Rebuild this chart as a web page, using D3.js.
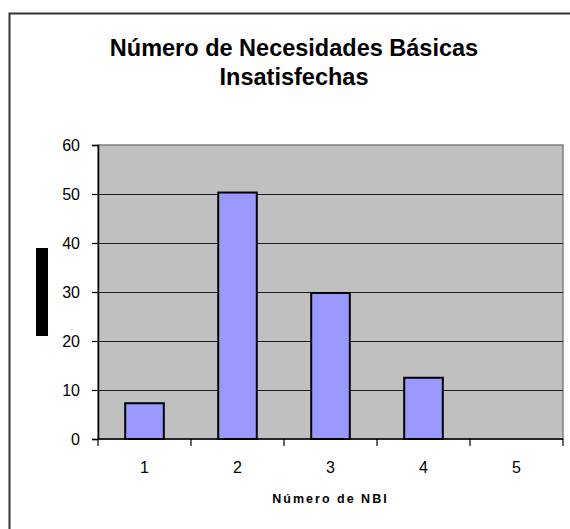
<!DOCTYPE html>
<html>
<head>
<meta charset="utf-8">
<script src="https://cdn.jsdelivr.net/npm/d3@7"></script>
<style>
  html, body { margin: 0; padding: 0; background: #fff; }
  svg { display: block; }
  text { font-family: "Liberation Sans", Arial, sans-serif; }
</style>
</head>
<body>
<svg id="chart" width="570" height="529"></svg>
<script>
const categories = ["1", "2", "3", "4", "5"];
const values = [7.3, 50.3, 29.8, 12.5, 0];
const yTicks = [0, 10, 20, 30, 40, 50, 60];
const titleLines = ["Número de Necesidades Básicas", "Insatisfechas"];
const xTitle = "Número de NBI";

const svg = d3.select("#chart");
const plot = { left: 98, right: 563, top: 145, bottom: 439 };

// outer chart border (extends past the window on right and bottom)
svg.append("rect")
  .attr("x", 9.5).attr("y", 13.5)
  .attr("width", 700).attr("height", 700)
  .attr("fill", "#fff")
  .attr("stroke", "#333").attr("stroke-width", 2);

const x = d3.scaleBand()
  .domain(categories)
  .range([plot.left, plot.right])
  .paddingInner(0.585)
  .paddingOuter(0.2925);

const y = d3.scaleLinear()
  .domain([0, 60])
  .range([plot.bottom, plot.top]);

// plot background
svg.append("rect")
  .attr("x", plot.left).attr("y", plot.top)
  .attr("width", plot.right - plot.left)
  .attr("height", plot.bottom - plot.top)
  .attr("fill", "#c0c0c0")
  .attr("stroke", "#808080").attr("stroke-width", 1.5);

// gridlines
svg.append("g")
  .selectAll("line")
  .data(yTicks.filter(d => d > 0 && d < 60))
  .join("line")
  .attr("x1", plot.left).attr("x2", plot.right)
  .attr("y1", d => Math.round(y(d)) + 0.5).attr("y2", d => Math.round(y(d)) + 0.5)
  .attr("stroke", "#1a1a1a").attr("stroke-width", 1);

// bars
svg.append("g")
  .selectAll("rect")
  .data(values)
  .join("rect")
  .attr("x", (d, i) => x(categories[i]))
  .attr("width", x.bandwidth())
  .attr("y", d => y(d))
  .attr("height", d => y(0) - y(d))
  .attr("fill", "#9999ff")
  .attr("stroke", d => d > 0 ? "#000" : "none")
  .attr("stroke-width", 2);

// y axis
const yAxis = d3.axisLeft(y).tickValues(yTicks).tickSize(6).tickPadding(12).tickFormat(d3.format("d"));
const gy = svg.append("g")
  .attr("transform", `translate(${plot.left},0)`)
  .call(yAxis);
gy.attr("font-size", null).attr("font-family", null);
gy.select(".domain").attr("stroke", "#000").attr("stroke-width", 1.5);
gy.selectAll(".tick line").attr("stroke", "#000").attr("stroke-width", 1.2);
gy.selectAll(".tick text")
  .style("font-size", "16px").attr("fill", "#000")
  .style("font-family", "'Liberation Sans', Arial, sans-serif");

// x axis with ticks at band boundaries
const gx = svg.append("g")
  .attr("transform", `translate(0,${plot.bottom})`);
gx.append("line")
  .attr("x1", plot.left).attr("x2", plot.right)
  .attr("y1", 0).attr("y2", 0)
  .attr("stroke", "#000").attr("stroke-width", 1.5);
const boundaries = categories.map(c => x(c) - x.step() * x.paddingInner() / 2);
boundaries.push(plot.right);
boundaries[0] = plot.left;
gx.selectAll("line.tk")
  .data(boundaries)
  .join("line")
  .attr("class", "tk")
  .attr("x1", d => d).attr("x2", d => d)
  .attr("y1", 0).attr("y2", 7)
  .attr("stroke", "#000").attr("stroke-width", 1.2);
gx.selectAll("text")
  .data(categories)
  .join("text")
  .attr("x", d => x(d) + x.bandwidth() / 2)
  .attr("y", 34)
  .attr("text-anchor", "middle")
  .style("font-size", "16px")
  .attr("fill", "#000")
  .text(d => d);

// x axis title
svg.append("text")
  .attr("x", (plot.left + plot.right) / 2)
  .attr("y", 503)
  .attr("text-anchor", "middle")
  .style("font-size", "12.5px")
  .attr("font-weight", "bold")
  .attr("letter-spacing", 2)
  .attr("fill", "#000")
  .text(xTitle);

// redacted y-axis title block
svg.append("rect")
  .attr("x", 36).attr("y", 248)
  .attr("width", 12).attr("height", 88)
  .attr("fill", "#000");

// chart title
svg.append("g")
  .selectAll("text")
  .data(titleLines)
  .join("text")
  .attr("x", 294)
  .attr("y", (d, i) => 56 + i * 28.5)
  .attr("text-anchor", "middle")
  .style("font-size", "23.5px")
  .attr("font-weight", "bold")
  .attr("fill", "#000")
  .text(d => d);
</script>
</body>
</html>
